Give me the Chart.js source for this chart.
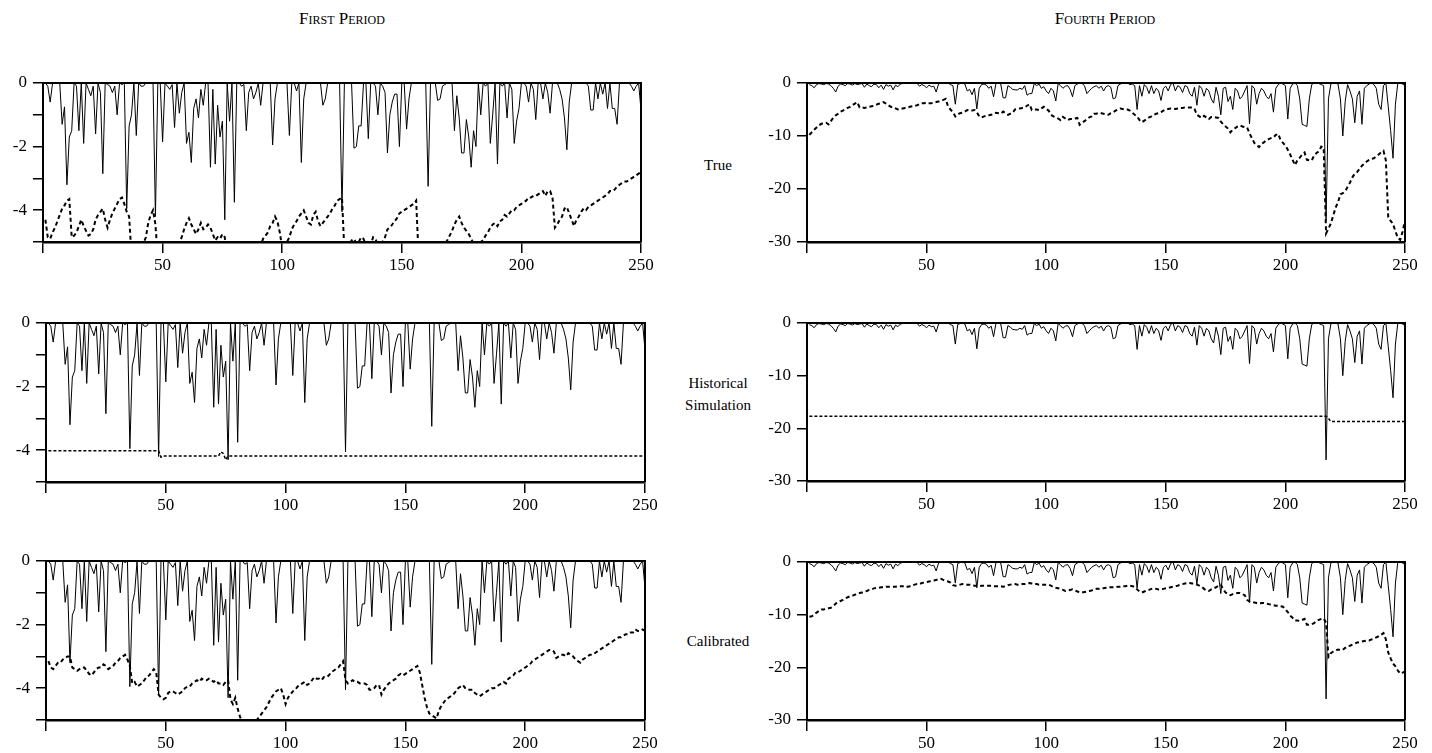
<!DOCTYPE html>
<html><head><meta charset="utf-8">
<script src="https://cdn.jsdelivr.net/npm/chart.js@4.4.0/dist/chart.umd.min.js"></script>
<style>
html,body{margin:0;padding:0;background:#fff;width:1432px;height:753px;overflow:hidden;}
canvas{position:absolute;left:0;top:0;}
.t{position:absolute;font-family:'Liberation Serif',serif;font-size:15px;color:#000;transform:translateX(-50%);white-space:nowrap;text-align:center;line-height:22px;}
.sc{font-variant:small-caps;font-size:17px;line-height:17px;}
</style></head><body>
<div class="t sc" style="left:342px;top:10px">First Period</div>
<div class="t sc" style="left:1105px;top:10px">Fourth Period</div>
<div class="t" style="left:718px;top:154px">True</div>
<div class="t" style="left:718px;top:372px">Historical<br>Simulation</div>
<div class="t" style="left:718px;top:630px">Calibrated</div>
<canvas id="c1" width="1432" height="753"></canvas>
<canvas id="c2" width="1432" height="753"></canvas>
<canvas id="c3" width="1432" height="753"></canvas>
<canvas id="c4" width="1432" height="753"></canvas>
<canvas id="c5" width="1432" height="753"></canvas>
<canvas id="c6" width="1432" height="753"></canvas>
<script>
const days = Array.from({length: 250}, (_, k) => k + 1);
const xTicks = [0, 50, 100, 150, 200, 250];
const p1YTicks = [0, -1, -2, -3, -4, -5];
const p4YTicks = [0, -10, -20, -30];

const p1Loss = [
0,-0.1,-0.6,0,0,0,0,-1.3,-0.75,-3.2,
-1.7,-1.5,0,-0.1,-1.5,0,-1.9,0,-0.2,-0.4,
-0.1,-1.6,0,-0.3,-2.85,0,-0.05,-0.1,-0.3,-0.1,
-1.0,0,-0.05,0,-3.95,-1.35,-1.0,0,-1.65,0,
-0.1,-0.1,0,0,0,0,-4.2,0,0,-1.85,
0,-0.1,-0.2,-0.05,-1.4,0,-0.95,-0.3,0,-1.9,
-1.55,-2.5,-0.8,-0.5,-1.1,-0.2,-0.7,0,0,-2.65,
-0.2,-2.55,-0.7,-1.7,-1.2,-4.3,0,-1.2,0,-3.75,
0,0,-0.1,-0.05,-1.5,-0.3,-0.1,-0.5,-0.3,0,
-0.7,0,0,0,0,-1.95,-0.5,0,0,0,
0,0,-1.65,0,0,-0.25,0,-2.5,-0.5,0,
0,0,0,0,0,0,-0.7,-0.5,0,0,
0,0,0,0,-4.05,0,0,0,0,-2.05,
-2.0,-1.35,-1.35,0,0,-1.75,0,0,-0.1,-1.0,
0,-0.1,-0.3,-2.2,-1.0,-0.6,-0.35,-0.35,-2.0,0,
0,-1.45,-0.5,0,0,0,0,0,0,0,
-3.25,0,0,0,-0.55,-0.5,-0.1,-0.05,0,0,
0,-1.5,-0.4,-1.1,-2.2,-2.2,-1.15,-1.7,-2.65,-1.5,
-2.0,0,-1.0,0,-0.1,0,-1.9,-1.0,0,-2.55,
0,-0.1,0,-1.1,0,-0.2,-1.9,-1.2,-0.8,0,
0,-0.1,-0.6,0,-0.2,-1.15,0,0,-0.5,0,
-0.3,-0.95,0,0,0,-0.2,-0.5,-1.1,-2.1,-0.6,
0,0,0,0,0,0,0,-0.1,-0.85,-0.85,
0,-0.5,0,-0.35,0,-0.8,0,-0.8,-0.8,-1.3,
0,0,0,0,0,-0.1,-0.25,-0.1,0,-0.85];

const p1True = [
-4.3,-4.85,-4.9,-4.7,-4.55,-4.35,-4.15,-3.95,-3.85,-3.7,
-3.65,-4.85,-4.8,-4.7,-4.5,-4.3,-4.5,-4.65,-4.8,-4.75,
-4.6,-4.3,-4.15,-4.05,-3.95,-4.3,-4.55,-4.3,-4.1,-3.95,
-3.8,-3.65,-3.6,-3.8,-4.05,-4.2,-5.4,-5.6,-5.5,-5.4,
-5.2,-5.05,-4.85,-4.4,-4.15,-4.0,-4.45,-5.5,-5.6,-5.7,
-5.6,-5.5,-5.4,-5.3,-5.2,-5.1,-5.0,-4.85,-4.6,-4.4,
-4.25,-4.45,-4.6,-4.75,-4.6,-4.4,-4.6,-4.55,-4.45,-4.55,
-4.75,-4.95,-4.85,-4.9,-4.75,-4.85,-5.6,-5.8,-5.9,-6.0,
-6.0,-5.95,-5.9,-5.8,-5.7,-5.6,-5.5,-5.4,-5.3,-5.2,
-5.1,-4.9,-4.8,-4.7,-4.5,-4.4,-4.2,-4.35,-4.7,-5.2,
-5.15,-5.0,-4.85,-4.6,-4.45,-4.35,-4.2,-4.1,-4.0,-4.2,
-4.4,-4.45,-4.15,-4.05,-4.35,-4.5,-4.4,-4.3,-4.2,-4.1,
-3.95,-3.85,-3.7,-3.65,-3.6,-5.3,-5.2,-5.1,-4.95,-4.9,
-5.05,-5.0,-4.85,-4.9,-5.1,-5.2,-5.1,-4.85,-4.9,-5.1,
-5.2,-5.0,-4.85,-4.6,-4.55,-4.45,-4.35,-4.25,-4.1,-4.05,
-4.0,-3.95,-3.9,-3.85,-3.8,-3.7,-5.4,-5.5,-5.6,-5.7,
-5.7,-5.6,-5.5,-5.4,-5.3,-5.2,-5.1,-5.05,-4.95,-4.8,
-4.65,-4.45,-4.3,-4.2,-4.4,-4.55,-4.65,-4.75,-4.9,-5.05,
-5.15,-5.1,-5.0,-4.95,-4.8,-4.7,-4.55,-4.45,-4.4,-4.5,
-4.35,-4.3,-4.15,-4.2,-4.1,-4.0,-4.0,-3.9,-3.85,-3.8,
-3.75,-3.7,-3.6,-3.6,-3.55,-3.55,-3.5,-3.45,-3.4,-3.55,
-3.4,-3.4,-3.6,-4.55,-4.45,-4.3,-4.2,-3.95,-3.9,-4.1,
-4.3,-4.5,-4.3,-4.2,-4.05,-3.95,-4.0,-3.9,-3.85,-3.8,
-3.75,-3.7,-3.65,-3.6,-3.55,-3.5,-3.4,-3.4,-3.35,-3.25,
-3.2,-3.15,-3.1,-3.1,-3.05,-3.0,-2.95,-2.9,-2.85,-2.8];

const p1HsX = [1, 47, 48, 49, 72, 73, 74, 75, 76, 250];
const p1HsY = [-4.02, -4.02, -4.22, -4.18, -4.18, -4.05, -4.1, -4.3, -4.18, -4.18];

const p1Calib = [
-3.15,-3.35,-3.4,-3.3,-3.2,-3.2,-3.1,-3.05,-3.0,-3.0,
-3.35,-3.4,-3.45,-3.4,-3.35,-3.35,-3.45,-3.55,-3.6,-3.5,
-3.4,-3.35,-3.35,-3.25,-3.3,-3.4,-3.35,-3.3,-3.2,-3.15,
-3.05,-3.0,-2.95,-3.1,-3.3,-3.85,-3.8,-3.95,-3.9,-3.85,
-3.75,-3.65,-3.6,-3.5,-3.4,-3.5,-4.2,-4.3,-4.35,-4.3,
-4.15,-4.1,-4.1,-4.15,-4.2,-4.15,-4.1,-4.0,-3.95,-3.95,
-3.85,-3.8,-3.75,-3.8,-3.7,-3.75,-3.75,-3.7,-3.75,-3.8,
-3.75,-3.85,-3.85,-3.9,-3.8,-3.75,-4.35,-4.5,-4.3,-4.65,
-4.9,-5.1,-5.2,-5.25,-5.25,-5.2,-5.1,-5.0,-4.9,-4.8,
-4.7,-4.6,-4.45,-4.3,-4.2,-4.1,-4.05,-4.0,-4.2,-4.5,
-4.3,-4.2,-4.1,-4.05,-3.95,-3.9,-3.85,-3.8,-3.9,-3.85,
-3.75,-3.65,-3.7,-3.7,-3.75,-3.65,-3.65,-3.6,-3.5,-3.45,
-3.4,-3.35,-3.25,-3.15,-3.75,-3.85,-3.8,-3.75,-3.8,-3.8,
-3.85,-3.85,-3.85,-3.9,-4.05,-4.05,-4.0,-3.9,-3.9,-4.2,
-4.05,-3.95,-3.85,-3.8,-3.75,-3.7,-3.6,-3.55,-3.6,-3.55,
-3.5,-3.45,-3.4,-3.35,-3.3,-3.5,-3.9,-4.3,-4.6,-4.8,
-4.85,-4.9,-4.95,-4.7,-4.55,-4.45,-4.35,-4.3,-4.25,-4.2,
-4.1,-4.0,-3.95,-3.9,-4.0,-4.05,-4.05,-4.05,-4.15,-4.2,
-4.25,-4.2,-4.15,-4.1,-4.05,-4.0,-4.0,-3.95,-3.9,-3.85,
-3.8,-3.85,-3.7,-3.65,-3.6,-3.5,-3.5,-3.45,-3.4,-3.35,
-3.3,-3.25,-3.15,-3.1,-3.05,-3.0,-2.95,-2.9,-2.85,-2.8,
-2.8,-2.85,-3.05,-3.0,-2.95,-2.95,-3.0,-2.9,-2.95,-3.0,
-3.1,-3.15,-3.2,-3.1,-3.05,-3.0,-2.95,-2.95,-2.9,-2.85,
-2.8,-2.75,-2.7,-2.65,-2.6,-2.55,-2.5,-2.45,-2.4,-2.4,
-2.35,-2.3,-2.3,-2.25,-2.25,-2.15,-2.2,-2.2,-2.15,-2.2];

const p4Loss = [
-0.3,-0.5,-0.9,-0.3,-0.1,-0.2,-0.3,-0.1,-0.2,-0.5,
-1.0,-1.7,-0.6,-0.2,-0.3,-0.5,-0.1,-0.2,-0.4,-0.1,
-0.3,-0.2,-0.1,-0.8,-0.2,-0.5,-0.7,-0.2,-0.3,-0.9,
-0.4,-1.2,-0.3,-0.6,-0.4,-1.3,-0.4,-0.7,-0.2,-0.1,
0,0,-0.05,0,-0.1,-0.05,-0.6,-0.3,-0.5,-0.9,
-0.4,-0.7,-0.6,-1.7,-0.2,0,0,-0.1,0,-0.3,
-0.5,-4.0,-0.3,-0.1,0,-0.2,-1.5,-1.2,-2.2,-1.0,
-4.9,-1.0,-0.3,-0.2,-0.4,-1.0,-0.6,-2.6,-0.1,0,
-0.2,-2.8,-2.8,-0.5,-0.8,-1.2,-1.3,-1.3,-1.0,-1.2,
-0.5,-2.3,-2.0,-2.0,-0.1,-0.5,-0.2,-1.0,-0.7,-1.5,
-2.0,-1.0,-1.5,-3.4,-0.1,-0.5,-1.0,-0.6,-0.5,-1.2,
-2.6,-0.5,-0.2,0,-0.1,-0.5,-2.0,-1.5,-1.0,-0.7,
-0.5,-1.0,-0.6,-1.5,-0.7,-0.5,-0.8,-3.0,-2.8,-0.5,
-0.2,0,-0.1,0,-0.3,-0.2,-0.5,-5.0,-0.5,-2.5,
-0.3,-0.8,-2.0,-0.5,-2.0,-1.0,-1.5,-3.3,-1.0,-0.6,
-1.5,-0.3,0,-1.5,-0.5,-0.8,-1.8,-0.5,-0.7,-2.0,
-2.5,-0.8,-4.2,-0.5,-1.0,-2.5,-1.0,-1.5,-3.0,-3.8,
-0.8,-2.5,-6.0,-1.0,-0.8,-3.5,-2.5,-5.0,-1.0,-1.5,
-3.0,-2.5,-1.5,-0.5,-7.7,-0.5,-1.0,-4.0,-2.0,-1.0,
-1.5,-2.5,-3.0,-2.0,-5.5,-1.0,-0.3,0,-0.2,-0.5,
-6.8,-1.0,-0.2,0,-0.5,-3.0,-7.8,-8.0,-8.2,-3.0,
-0.3,0,0,-0.1,-0.3,-0.5,-26.0,-3.0,-0.2,0,
0,-0.2,-3.0,-10.0,-3.5,-0.3,-1.5,-3.0,-7.5,-2.5,
-1.5,-7.8,-1.0,-0.5,-0.2,0,-0.3,-1.0,-4.0,-5.0,
-0.5,0,-4.5,-9.0,-14.2,-4.0,0,0,-0.2,-0.5];

const p4True = [
-9.8,-9.3,-8.8,-8.4,-8.0,-7.7,-7.6,-7.5,-7.8,-7.2,
-6.5,-6.1,-5.8,-5.4,-5.2,-5.0,-4.7,-4.5,-4.2,-3.9,
-3.6,-4.6,-4.6,-4.7,-4.6,-4.5,-4.4,-4.3,-4.1,-3.9,
-3.8,-3.6,-3.9,-4.2,-4.5,-4.6,-4.8,-5.0,-4.9,-4.8,
-4.7,-4.6,-4.5,-4.4,-4.3,-4.2,-4.0,-3.8,-3.8,-3.7,
-3.8,-3.8,-3.7,-3.6,-3.5,-3.4,-3.2,-3.0,-4.5,-5.0,
-5.5,-6.3,-5.9,-5.7,-5.6,-5.4,-5.1,-5.2,-5.2,-5.1,
-5.5,-6.3,-6.5,-6.3,-6.2,-6.1,-6.0,-5.8,-5.6,-5.7,
-5.8,-5.4,-5.7,-6.0,-5.8,-5.6,-5.0,-4.9,-4.8,-4.7,
-4.6,-4.3,-4.0,-5.1,-5.0,-5.0,-5.1,-4.8,-4.5,-4.9,
-5.2,-6.0,-6.3,-6.5,-6.7,-7.0,-6.4,-6.7,-7.0,-6.8,
-6.8,-6.7,-6.6,-7.9,-7.5,-7.2,-6.8,-6.5,-6.3,-5.8,
-5.8,-5.6,-5.7,-5.8,-5.9,-6.0,-5.7,-5.5,-5.2,-5.0,
-4.8,-4.9,-5.0,-5.0,-5.2,-5.6,-6.0,-6.3,-7.0,-7.4,
-7.1,-6.8,-6.5,-6.3,-6.0,-5.8,-5.7,-5.5,-5.2,-5.0,
-4.9,-4.8,-4.8,-4.9,-4.8,-4.7,-4.7,-4.6,-4.6,-4.6,
-4.6,-4.9,-6.0,-6.3,-6.6,-6.2,-6.5,-6.8,-6.4,-6.4,
-6.5,-6.6,-7.3,-7.8,-8.2,-8.6,-9.3,-8.8,-8.5,-8.2,
-8.0,-8.2,-8.3,-8.4,-9.5,-10.4,-11.3,-11.7,-12.1,-11.5,
-11.2,-10.8,-10.6,-10.4,-10.3,-9.8,-9.6,-10.8,-11.3,-11.8,
-12.6,-13.5,-14.5,-15.5,-14.6,-14.1,-13.5,-13.1,-14.5,-14.6,
-14.6,-13.7,-13.2,-12.9,-12.0,-12.2,-28.4,-27.5,-26.5,-25.0,
-23.5,-22.5,-21.0,-20.8,-20.4,-19.6,-18.8,-17.8,-17.1,-16.8,
-16.2,-15.6,-15.2,-14.8,-14.5,-14.3,-14.2,-13.8,-13.5,-13.1,
-12.8,-14.6,-25.4,-26.0,-26.6,-28.0,-29.2,-29.6,-28.0,-26.0];

const p4HsX = [1, 217, 218, 219, 250];
const p4HsY = [-17.7, -17.7, -18.1, -18.7, -18.7];

const p4Calib = [
-10.4,-10.3,-10.0,-9.6,-9.3,-9.0,-9.0,-8.9,-8.8,-8.7,
-8.4,-7.9,-7.6,-7.4,-7.2,-6.9,-6.7,-6.5,-6.4,-6.2,
-6.1,-5.9,-5.8,-5.6,-5.5,-5.3,-5.2,-5.0,-4.9,-4.9,
-4.8,-4.8,-4.7,-4.7,-4.7,-4.7,-4.7,-4.6,-4.6,-4.6,
-4.8,-4.7,-4.6,-4.4,-4.3,-4.2,-4.2,-4.0,-3.9,-3.8,
-3.7,-3.6,-3.5,-3.4,-3.3,-3.2,-3.4,-3.6,-3.7,-3.9,
-4.4,-4.5,-4.4,-4.3,-4.2,-4.2,-4.3,-4.3,-4.4,-4.5,
-4.5,-4.6,-4.5,-4.5,-4.5,-4.5,-4.5,-4.6,-4.6,-4.6,
-4.6,-4.7,-4.6,-4.4,-4.3,-4.2,-4.2,-4.3,-4.3,-4.2,
-4.2,-4.1,-4.0,-4.1,-4.2,-4.2,-4.3,-4.3,-4.3,-4.3,
-4.3,-4.5,-4.8,-4.9,-5.0,-5.1,-5.3,-5.5,-5.4,-5.3,
-5.2,-5.4,-5.6,-5.7,-5.8,-5.7,-5.6,-5.5,-5.4,-5.2,
-5.1,-5.1,-5.0,-5.0,-4.9,-4.8,-4.8,-4.8,-4.8,-4.7,
-4.7,-4.6,-4.6,-4.5,-4.5,-4.6,-4.7,-5.2,-5.6,-5.8,
-5.6,-5.4,-5.3,-5.1,-5.0,-5.1,-5.2,-5.2,-5.1,-5.0,
-4.9,-4.8,-4.7,-4.6,-4.5,-4.3,-4.2,-4.1,-4.0,-4.0,
-4.1,-4.1,-4.3,-4.5,-4.7,-5.1,-5.4,-5.5,-5.2,-5.0,
-4.8,-4.5,-4.3,-5.2,-5.8,-6.1,-6.3,-6.1,-6.0,-5.9,
-5.9,-6.1,-6.3,-7.2,-7.5,-7.6,-7.7,-7.8,-7.9,-7.8,
-7.8,-7.9,-8.0,-8.1,-8.2,-8.3,-8.3,-8.4,-8.5,-9.0,
-9.5,-10.2,-10.6,-11.1,-11.1,-11.2,-11.0,-10.8,-11.9,-11.9,
-11.8,-11.6,-11.2,-11.0,-10.8,-10.7,-11.5,-18.0,-17.3,-17.0,
-16.8,-16.6,-16.7,-16.7,-16.3,-16.0,-15.9,-15.7,-15.5,-15.3,
-15.2,-15.1,-15.0,-14.9,-14.9,-14.7,-14.6,-14.3,-14.1,-13.8,
-13.5,-14.7,-17.2,-18.3,-19.3,-19.8,-20.6,-21.2,-21.0,-20.8];

const YW = 50, XH = 34;
const tickFont = {family: "'Liberation Serif', serif", size: 17};

const frame = {
  id: 'frame',
  afterDraw(c) {
    const {ctx, chartArea: a} = c;
    ctx.save();
    ctx.strokeStyle = '#000';
    ctx.lineWidth = 2;
    ctx.beginPath();
    ctx.moveTo(a.left, a.top);
    ctx.lineTo(a.right, a.top);
    ctx.lineTo(a.right, a.bottom);
    ctx.stroke();
    ctx.restore();
  }
};

function pts(xs, ys) { return xs.map((x, k) => ({x: x, y: ys[k]})); }
function solid(arr) {
  return {data: pts(days, arr), borderColor: '#000', borderWidth: 1, pointRadius: 0, tension: 0, clip: 0};
}
function dashed(xs, ys, w, dash) {
  return {data: pts(xs, ys), borderColor: '#000', borderWidth: w, borderDash: dash, pointRadius: 0, tension: 0, clip: 0};
}

function panel(id, box, yMin, yTicks, labelFn, datasets) {
  new Chart(document.getElementById(id), {
    type: 'line',
    data: {datasets: datasets},
    options: {
      responsive: false, animation: false, events: [],
      layout: {padding: {left: box.l - YW, right: 1432 - box.r, top: box.t, bottom: 753 - box.b - XH}},
      plugins: {legend: {display: false}, tooltip: {enabled: false}},
      scales: {
        x: {
          type: 'linear', min: 0, max: 250,
          afterFit(s) { s.height = XH; },
          afterBuildTicks(s) { s.ticks = xTicks.map(v => ({value: v})); },
          ticks: {callback: v => v === 0 ? '' : String(v), font: tickFont, color: '#000', padding: 2, maxRotation: 0, autoSkip: false},
          grid: {drawOnChartArea: false, color: '#000', lineWidth: 1.5, tickLength: 11},
          border: {color: '#000', width: 2.5}
        },
        y: {
          type: 'linear', min: yMin, max: 0,
          afterFit(s) { s.width = YW; },
          afterBuildTicks(s) { s.ticks = yTicks.map(v => ({value: v})); },
          ticks: {callback: labelFn, font: tickFont, color: '#000', padding: 6, autoSkip: false},
          grid: {drawOnChartArea: false, color: '#000', lineWidth: 1.5, tickLength: 10},
          border: {color: '#000', width: 2}
        }
      }
    },
    plugins: [frame]
  });
}

const evenLabel = v => (Math.round(v) % 2 === 0) ? String(v) : '';
const allLabel = v => String(v);

panel('c1', {l: 43, r: 641, t: 83, b: 242}, -5, p1YTicks, evenLabel,
  [solid(p1Loss), dashed(days, p1True, 2, [4, 3])]);
panel('c2', {l: 46, r: 645, t: 323, b: 482}, -5, p1YTicks, evenLabel,
  [solid(p1Loss), dashed(p1HsX, p1HsY, 1.5, [3, 2])]);
panel('c3', {l: 46, r: 645, t: 561, b: 720}, -5, p1YTicks, evenLabel,
  [solid(p1Loss), dashed(days, p1Calib, 2, [4, 3])]);
panel('c4', {l: 807, r: 1405, t: 83, b: 242}, -30, p4YTicks, allLabel,
  [solid(p4Loss), dashed(days, p4True, 2, [4, 3])]);
panel('c5', {l: 807, r: 1405, t: 323, b: 481}, -30, p4YTicks, allLabel,
  [solid(p4Loss), dashed(p4HsX, p4HsY, 1.5, [3, 2])]);
panel('c6', {l: 807, r: 1405, t: 562, b: 720}, -30, p4YTicks, allLabel,
  [solid(p4Loss), dashed(days, p4Calib, 2, [4, 3])]);
</script>
</body></html>
